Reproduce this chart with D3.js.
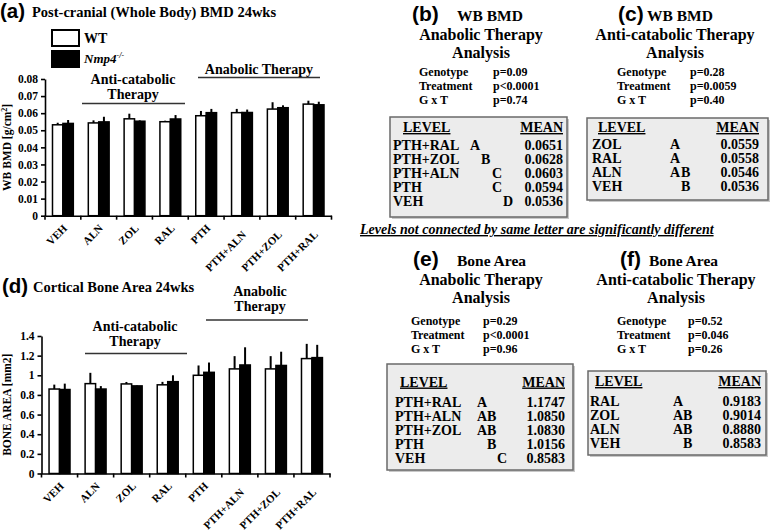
<!DOCTYPE html>
<html>
<head>
<meta charset="utf-8">
<script src="https://cdn.jsdelivr.net/npm/d3@7"></script>
<style>
  body { margin: 0; background: #fff; }
  svg text { font-family: "Liberation Serif", "Times New Roman", serif; font-weight: bold; fill: #000; }
  svg text.tag { font-family: "Liberation Sans", Arial, sans-serif; }
</style>
</head>
<body>
<div id="chart"></div>
<script>
// groups on the x axis of both bar charts
const categories = ["VEH", "ALN", "ZOL", "RAL", "PTH", "PTH+ALN", "PTH+ZOL", "PTH+RAL"];

// (a) whole body BMD, g/cm2
const bmdWT     = [0.0532, 0.0543, 0.0567, 0.0550, 0.0585, 0.0603, 0.0624, 0.0653];
const bmdWTErr  = [0.0012, 0.0015, 0.0030, 0.0006, 0.0028, 0.0022, 0.0040, 0.0020];
const bmdKO     = [0.0540, 0.0549, 0.0553, 0.0566, 0.0603, 0.0604, 0.0632, 0.0649];
const bmdKOErr  = [0.0020, 0.0030, 0.0005, 0.0023, 0.0022, 0.0017, 0.0014, 0.0018];
const bmdTicks  = [0, 0.01, 0.02, 0.03, 0.04, 0.05, 0.06, 0.07, 0.08];

// (d) cortical bone area, mm2
const areaWT    = [0.860, 0.915, 0.912, 0.903, 1.000, 1.065, 1.065, 1.170];
const areaWTErr = [0.045, 0.110, 0.020, 0.030, 0.100, 0.130, 0.130, 0.150];
const areaKO    = [0.855, 0.860, 0.892, 0.935, 1.030, 1.105, 1.100, 1.180];
const areaKOErr = [0.060, 0.030, 0.005, 0.065, 0.100, 0.180, 0.140, 0.130];
const areaTicks = [0, 0.2, 0.4, 0.6, 0.8, 1, 1.2, 1.4];

// statistics panels
const statNames = ["Genotype", "Treatment", "G x T"];
const pB = ["p=0.09", "p<0.0001", "p=0.74"];
const pC = ["p=0.28", "p=0.0059", "p=0.40"];
const pE = ["p=0.29", "p<0.0001", "p=0.96"];
const pF = ["p=0.52", "p=0.046", "p=0.26"];

const levelsB  = ["PTH+RAL", "PTH+ZOL", "PTH+ALN", "PTH", "VEH"];
const lettersB = ["A", "B", "C", "C", "D"];
const meansB   = [0.0651, 0.0628, 0.0603, 0.0594, 0.0536];

const levelsC  = ["ZOL", "RAL", "ALN", "VEH"];
const lettersC = ["A", "A", "AB", "B"];
const meansC   = [0.0559, 0.0558, 0.0546, 0.0536];

const levelsE  = ["PTH+RAL", "PTH+ALN", "PTH+ZOL", "PTH", "VEH"];
const lettersE = ["A", "AB", "AB", "B", "C"];
const meansE   = [1.1747, 1.0850, 1.0830, 1.0156, 0.8583];

const levelsF  = ["RAL", "ZOL", "ALN", "VEH"];
const lettersF = ["A", "AB", "AB", "B"];
const meansF   = [0.9183, 0.9014, 0.8880, 0.8583];

const W = 770, H = 531;
const svg = d3.select("#chart").append("svg").attr("width", W).attr("height", H);

function barChart(o) {
  const g = svg.append("g");
  const x = d3.scaleBand().domain(categories).range([o.left, o.right]);
  const sub = d3.scaleBand().domain(["WT", "KO"]).range([0, x.bandwidth()]).paddingOuter(0.72);
  const y = d3.scaleLinear().domain([0, o.max]).range([o.bottom, o.top]);

  // bars
  const series = [
    {key: "WT", vals: o.wt, errs: o.wtErr, fill: "#fff"},
    {key: "KO", vals: o.ko, errs: o.koErr, fill: "#000"}
  ];
  series.forEach(function(s) {
    categories.forEach(function(c, i) {
      const bx = x(c) + sub(s.key);
      const cx = bx + sub.bandwidth() / 2;
      g.append("line")
        .attr("x1", cx).attr("x2", cx)
        .attr("y1", y(s.vals[i])).attr("y2", y(s.vals[i] + s.errs[i]))
        .attr("stroke", "#000").attr("stroke-width", 2);
      g.append("rect")
        .attr("x", bx).attr("y", y(s.vals[i]))
        .attr("width", sub.bandwidth()).attr("height", y(0) - y(s.vals[i]))
        .attr("fill", s.fill).attr("stroke", "#000").attr("stroke-width", 1.5);
    });
  });

  // y axis
  const ya = g.append("g")
    .attr("transform", `translate(${o.left},0)`)
    .call(d3.axisLeft(y).tickValues(o.ticks).tickFormat(o.fmt).tickSize(4).tickPadding(3).tickSizeOuter(0));
  ya.selectAll("text").style("font-size", "11.5px").attr("font-family", null).attr("fill", null);
  ya.selectAll("path,line").attr("stroke", "#000").attr("stroke-width", 1.6);

  // x axis, ticks between groups
  const xa = g.append("g")
    .attr("transform", `translate(0,${o.bottom})`)
    .call(d3.axisBottom(x).tickSize(0).tickFormat("").tickSizeOuter(0));
  xa.select("path").attr("stroke", "#000").attr("stroke-width", 1.6);
  d3.range(categories.length + 1).forEach(function(i) {
    const tx = o.left + i * x.step();
    g.append("line").attr("x1", tx).attr("x2", tx).attr("y1", o.bottom).attr("y2", o.bottom + 4)
      .attr("stroke", "#000").attr("stroke-width", 1.6);
  });

  // rotated category labels
  categories.forEach(function(c) {
    const t = g.append("text").attr("text-anchor", "end").style("font-size", "11px").text(c);
    const len = t.node().getComputedTextLength();
    const ex = x(c) + x.bandwidth() / 2 + 5;
    const ey = o.bottom + 13 + 0.22 * (len - 22);
    t.attr("transform", `translate(${ex},${ey}) rotate(-45)`);
  });

  // y label
  const yl = g.append("text")
    .attr("transform", `translate(${o.yLabelX},${(o.top + o.bottom) / 2}) rotate(-90)`)
    .attr("text-anchor", "middle").style("font-size", "11.5px");
  yl.append("tspan").text(o.yLabel);
  if (o.yLabelSup) {
    yl.append("tspan").attr("dy", -4).style("font-size", "8px").text(o.yLabelSup);
    yl.append("tspan").attr("dy", 4).text("]");
  }

  // therapy group annotations
  o.groups.forEach(function(gr) {
    gr.lines.forEach(function(l, i) {
      g.append("text").attr("x", gr.cx).attr("y", gr.textY + i * 14.5)
        .attr("text-anchor", "middle").style("font-size", "14px").text(l);
    });
    g.append("line").attr("x1", gr.x1).attr("x2", gr.x2).attr("y1", gr.lineY).attr("y2", gr.lineY)
      .attr("stroke", "#333").attr("stroke-width", 1.3);
  });

  // panel title
  g.append("text").attr("class", "tag").attr("x", o.tagX).attr("y", o.titleY + 0.5)
    .style("font-size", "20.5px").text(o.tag);
  g.append("text").attr("x", o.titleX).attr("y", o.titleY).style("font-size", "14.5px").text(o.title);
}

barChart({
  left: 45, right: 331.5, top: 79, bottom: 215.7, max: 0.08,
  wt: bmdWT, wtErr: bmdWTErr, ko: bmdKO, koErr: bmdKOErr,
  ticks: bmdTicks, fmt: d => d === 0 ? "0" : d3.format(".2f")(d),
  yLabel: "WB BMD [g/cm", yLabelSup: "2", yLabelX: 11,
  tag: "(a)", tagX: 0, titleX: 32, titleY: 17,
  title: "Post-cranial (Whole Body) BMD 24wks",
  groups: [
    {lines: ["Anti-catabolic", "Therapy"], cx: 133, textY: 84, lineY: 103.5, x1: 82, x2: 185},
    {lines: ["Anabolic Therapy"], cx: 259, textY: 74, lineY: 77.5, x1: 198, x2: 320}
  ]
});

barChart({
  left: 41.5, right: 330, top: 336, bottom: 473.5, max: 1.4,
  wt: areaWT, wtErr: areaWTErr, ko: areaKO, koErr: areaKOErr,
  ticks: areaTicks, fmt: d3.format("~g"),
  yLabel: "BONE AREA [mm2]", yLabelX: 11,
  tag: "(d)", tagX: 2, titleX: 33, titleY: 292,
  title: "Cortical Bone Area 24wks",
  groups: [
    {lines: ["Anti-catabolic", "Therapy"], cx: 135, textY: 331, lineY: 353.5, x1: 85, x2: 187},
    {lines: ["Anabolic", "Therapy"], cx: 260, textY: 296, lineY: 320, x1: 206, x2: 308}
  ]
});

// legend
svg.append("rect").attr("x", 52).attr("y", 30).attr("width", 27).attr("height", 16)
  .attr("fill", "#fff").attr("stroke", "#000").attr("stroke-width", 2);
svg.append("rect").attr("x", 51).attr("y", 50).attr("width", 29).attr("height", 18).attr("fill", "#000");
svg.append("text").attr("x", 84).attr("y", 43).style("font-size", "14px").text("WT");
const ko = svg.append("text").attr("x", 84).attr("y", 63).style("font-size", "13px").style("font-style", "italic");
ko.append("tspan").text("Nmp4");
ko.append("tspan").attr("dy", -5).style("font-size", "8px").text("-/-");

function statPanel(o) {
  const g = svg.append("g");
  g.append("text").attr("class", "tag").attr("x", o.tagX).attr("y", o.titleY).style("font-size", "21px").text(o.tag);
  g.append("text").attr("x", o.titleX).attr("y", o.titleY).style("font-size", "15.5px").text(o.title);
  o.sub.forEach(function(s, i) {
    g.append("text").attr("x", o.cx).attr("y", o.titleY + 18.5 * (i + 1))
      .attr("text-anchor", "middle").style("font-size", "16px").text(s);
  });
  statNames.forEach(function(s, i) {
    g.append("text").attr("x", o.statX).attr("y", o.statY + i * 14).style("font-size", "12px").text(s);
    g.append("text").attr("x", o.pX).attr("y", o.statY + i * 14).style("font-size", "12px").text(o.p[i]);
  });

  // box with a soft shadow
  g.append("rect").attr("x", o.bx + 2).attr("y", o.by + 2).attr("width", o.bw).attr("height", o.bh)
    .attr("fill", "#c8c8c8");
  g.append("rect").attr("x", o.bx).attr("y", o.by).attr("width", o.bw).attr("height", o.bh)
    .attr("fill", "#ececec").attr("stroke", "#6a6a6a").attr("stroke-width", 1.5);

  g.append("text").attr("x", o.levelX).attr("y", o.by + o.headDy).style("font-size", "14px")
    .style("text-decoration", "underline").text("LEVEL");
  g.append("text").attr("x", o.valX).attr("y", o.by + o.headDy).attr("text-anchor", "end")
    .style("font-size", "14px").style("text-decoration", "underline").text("MEAN");

  o.levels.forEach(function(l, i) {
    const ry = o.by + o.rowDy + i * 14;
    g.append("text").attr("x", o.labelX).attr("y", ry).style("font-size", "14px").text(l);
    o.letters[i].split("").forEach(function(ch) {
      g.append("text").attr("x", o.letterX + (ch.charCodeAt(0) - 65) * o.letterStep).attr("y", ry)
        .style("font-size", "14px").text(ch);
    });
    g.append("text").attr("x", o.valX).attr("y", ry).attr("text-anchor", "end")
      .style("font-size", "14px").text(o.means[i].toFixed(4));
  });
}

statPanel({
  tag: "(b)", tagX: 412, title: "WB BMD", titleX: 457, titleY: 21,
  sub: ["Anabolic Therapy", "Analysis"], cx: 481,
  statX: 419, pX: 493, statY: 76, p: pB,
  bx: 390, by: 117, bw: 177, bh: 100,
  headDy: 15, rowDy: 33, levelX: 403, labelX: 393,
  letterX: 470, letterStep: 11,
  levels: levelsB, letters: lettersB, means: meansB, valX: 563
});

statPanel({
  tag: "(c)", tagX: 618, title: "WB BMD", titleX: 647, titleY: 21,
  sub: ["Anti-catabolic Therapy", "Analysis"], cx: 675,
  statX: 617, pX: 690, statY: 76, p: pC,
  bx: 587, by: 118, bw: 181, bh: 82,
  headDy: 14, rowDy: 31, levelX: 598, labelX: 592,
  letterX: 670, letterStep: 11,
  levels: levelsC, letters: lettersC, means: meansC, valX: 759
});

statPanel({
  tag: "(e)", tagX: 413, title: "Bone Area", titleX: 457, titleY: 266,
  sub: ["Anabolic Therapy", "Analysis"], cx: 481,
  statX: 411, pX: 483, statY: 325, p: pE,
  bx: 387, by: 364, bw: 186, bh: 106,
  headDy: 22.5, rowDy: 42.5, levelX: 400, labelX: 395,
  letterX: 477, letterStep: 10,
  levels: levelsE, letters: lettersE, means: meansE, valX: 565
});

statPanel({
  tag: "(f)", tagX: 620, title: "Bone Area", titleX: 649, titleY: 266,
  sub: ["Anti-catabolic Therapy", "Analysis"], cx: 676,
  statX: 617, pX: 688, statY: 325, p: pF,
  bx: 588, by: 371, bw: 178, bh: 84,
  headDy: 15, rowDy: 35, levelX: 595, labelX: 590,
  letterX: 673, letterStep: 10,
  levels: levelsF, letters: lettersF, means: meansF, valX: 761
});

// footnote between the panels
svg.append("text").attr("x", 360).attr("y", 234)
  .style("font-size", "14px").style("font-style", "italic").style("text-decoration", "underline")
  .text("Levels not connected by  same letter are significantly different");
</script>
</body>
</html>
